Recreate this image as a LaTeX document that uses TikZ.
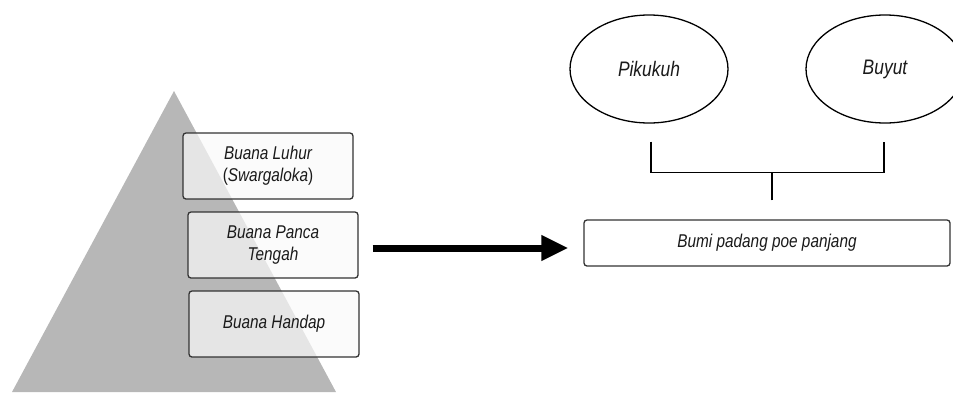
\documentclass[tikz,border=0pt]{standalone}
\usepackage{fontspec}
\setmainfont[FakeStretch=0.83]{Liberation Sans}
\usetikzlibrary{positioning,arrows.meta,shapes.geometric}
\definecolor{pyramidcolor}{RGB}{183,183,183}
\definecolor{edgecolor}{RGB}{51,51,51}
\definecolor{textcolor}{RGB}{26,26,26}
\tikzset{
    layer box/.style={rectangle, rounded corners=3pt, draw=edgecolor, line width=1.3pt,
        fill=gray!5, fill opacity=0.7, draw opacity=1, text opacity=1,
        minimum width=170pt, minimum height=66pt, align=center, text=textcolor,
        font=\fontsize{18.5}{22}\selectfont\itshape},
    target box/.style={layer box, fill=white, fill opacity=1, minimum width=366pt, minimum height=46pt},
    world ellipse/.style={ellipse, draw=black, line width=1.3pt, minimum width=158pt,
        minimum height=108pt, inner sep=0pt, text=textcolor,
        font=\fontsize{21}{24}\selectfont\itshape},
    bracket line/.style={draw=black, line width=1.2pt},
    big arrow/.style={-{Triangle[length=27pt,width=24pt]}, line width=7pt, draw=black}
}

\begin{document}
\begin{tikzpicture}[x=1pt, y=-1pt]
    \useasboundingbox (0,0) rectangle (953,392);

    % Pyramid behind the layers
    \fill[pyramidcolor] (174,91) -- (336,392) -- (12,392) -- cycle;

    % Layers of the world
    \node[layer box] (luhur) at (268,166) {Buana Luhur\\{\upshape(}Swargaloka{\upshape)}};
    \node[layer box] (tengah) at (273,245) {Buana Panca\\Tengah};
    \node[layer box] (handap) at (274,324) {Buana Handap};

    % Ellipses and target box
    \node[world ellipse] (pikukuh) at (649,69) {Pikukuh};
    \node[world ellipse] (buyut) at (885,69) {Buyut};
    \node[target box] (bumi) at (767,243) {Bumi padang poe panjang};

    % Bracket joining the two ellipses
    \coordinate[below=18pt of pikukuh, xshift=2pt] (pik-b);
    \coordinate[below=18pt of buyut, xshift=-1pt] (buy-b);
    \coordinate[below=31pt of pik-b] (bar-l);
    \coordinate[above=19pt of bumi, xshift=5pt] (stem-b);
    \draw[bracket line] (pik-b) -- (bar-l) -| (buy-b);
    \draw[bracket line] (stem-b) -- (stem-b |- bar-l);

    % Arrow to the target box
    \draw[big arrow, shorten <=14pt, shorten >=15pt] ([yshift=-3pt]tengah.east) -- ([yshift=-3pt]tengah.east -| bumi.west);
\end{tikzpicture}
\end{document}
